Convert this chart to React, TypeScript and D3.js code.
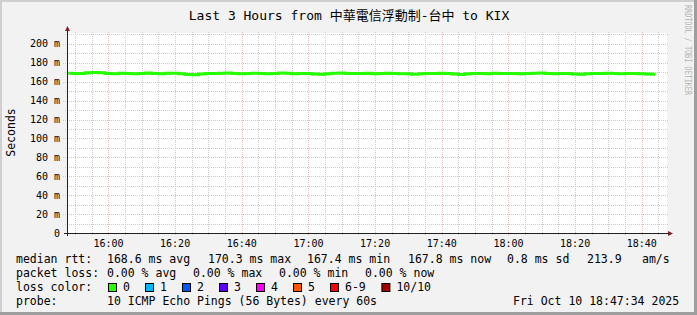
import React from 'react';
import * as d3 from 'd3';

// ---------- data ----------
const startTime = Date.UTC(2025, 9, 10, 15, 47, 34);
const endTime = Date.UTC(2025, 9, 10, 18, 47, 34);
const firstSample = Date.UTC(2025, 9, 10, 15, 48, 0);
const stepMinutes = 2;

const medianRtt = [
  168.9, 168.6, 168.8, 169.4, 169.8, 169.5, 168.7, 168.5, 168.9, 168.6,
  168.4, 168.8, 169.1, 168.7, 168.5, 168.9, 169.0, 168.3, 167.6, 167.4,
  168.2, 168.8, 168.6, 168.9, 169.2, 168.7, 168.5, 168.6, 169.0, 168.8,
  168.4, 168.7, 169.1, 168.9, 168.5, 168.6, 168.8, 168.2, 167.8, 168.5,
  168.9, 169.3, 168.8, 168.6, 168.7, 169.0, 168.5, 168.6, 168.9, 168.7,
  168.4, 168.3, 167.9, 168.5, 168.8, 168.6, 168.9, 168.7, 168.2, 167.7,
  168.4, 168.8, 168.6, 168.5, 168.9, 168.7, 168.6, 168.8, 168.4, 168.6,
  168.9, 169.1, 168.7, 168.5, 168.8, 168.6, 168.2, 167.9, 168.4, 168.7,
  168.6, 168.9, 168.8, 168.5, 168.7, 168.6, 168.3, 168.1, 167.8,
];

const smokeSpread = [
  2.2, 1.8, 2.6, 2.0, 1.6, 2.4, 3.0, 2.1, 1.9, 2.5,
  2.8, 2.0, 1.7, 2.3, 2.9, 2.2, 1.8, 2.6, 3.1, 2.4,
  2.0, 1.9, 2.7, 2.2, 1.8, 2.5, 2.9, 2.1, 1.7, 2.3,
  2.6, 2.0, 1.8, 2.4, 2.8, 2.2, 1.9, 2.7, 3.0, 2.3,
  1.8, 2.1, 2.6, 2.4, 1.9, 2.2, 2.8, 2.5, 1.8, 2.1,
  2.7, 2.9, 2.4, 2.0, 1.8, 2.3, 2.6, 2.1, 2.8, 3.1,
  2.2, 1.9, 2.4, 2.7, 2.0, 1.8, 2.5, 2.2, 2.9, 2.3,
  1.9, 2.1, 2.6, 2.4, 2.0, 2.3, 2.8, 3.0, 2.2, 1.9,
  2.4, 2.1, 2.6, 2.3, 1.8, 2.5, 2.7, 2.4, 2.2,
];

const yTicks = [0, 20, 40, 60, 80, 100, 120, 140, 160, 180, 200];
const yTickLabels = ['0', '20 m', '40 m', '60 m', '80 m', '100 m', '120 m', '140 m', '160 m', '180 m', '200 m'];
const yMinorStep = 10;
const yMax = 211.5;

const titleText = 'Last 3 Hours from 中華電信浮動制-台中 to KIX';
const yAxisTitle = 'Seconds';
const watermark = 'RRDTOOL / TOBI OETIKER';

const medianLabel = 'median rtt:';
const medianStats = ['168.6 ms avg', '170.3 ms max', '167.4 ms min', '167.8 ms now', '0.8 ms sd', '213.9', 'am/s'];
const lossLabel = 'packet loss:';
const lossStats = ['0.00 % avg', '0.00 % max', '0.00 % min', '0.00 % now'];
const lossColorLabel = 'loss color:';
const lossLabels = ['0', '1', '2', '3', '4', '5', '6-9', '10/10'];
const lossColorValues = ['#26ff00', '#00b8ff', '#0059ff', '#5e00ff', '#ff00fe', '#ff5500', '#ff0000', '#a10000'];
const probeLabel = 'probe:';
const probeText = '10 ICMP Echo Pings (56 Bytes) every 60s';
const dateText = 'Fri Oct 10 18:47:34 2025';

// ---------- layout ----------
const W = 697;
const H = 315;
const L = 67;
const R = 667;
const T = 33;
const B = 233;
const MONO = '"DejaVu Sans Mono", "Noto Sans CJK TC", monospace';

const medianX = [107, 208, 307, 408, 507, 587, 642];
const lossX = [107, 193, 279, 365];

export default function App() {
  const x = d3.scaleUtc().domain([new Date(startTime), new Date(endTime)]).range([L, R]);
  const y = d3.scaleLinear().domain([0, yMax]).range([B, T]);

  const samples = medianRtt.map((v, i) => ({
    t: new Date(firstSample + i * stepMinutes * 60000),
    v,
    s: smokeSpread[i],
  }));

  const smokeArea = d3
    .area<any>()
    .x((d) => x(d.t))
    .y0((d) => y(d.v - d.s / 2))
    .y1((d) => y(d.v + d.s / 2))
    .curve(d3.curveStep);
  const smokeInner = d3
    .area<any>()
    .x((d) => x(d.t))
    .y0((d) => y(d.v - d.s / 4))
    .y1((d) => y(d.v + d.s / 4))
    .curve(d3.curveStep);
  const medianLine = d3
    .line<any>()
    .x((d) => x(d.t))
    .y((d) => y(d.v))
    .curve(d3.curveStep);

  const minorTimes = d3.utcMinute.every(5)!.range(new Date(startTime), new Date(endTime));
  const majorTimes = d3.utcMinute.every(20)!.range(new Date(startTime), new Date(endTime));
  const fmt = d3.utcFormat('%H:%M');

  const minorY = d3.range(yMinorStep, yMax, yMinorStep).filter((v) => v % 20 !== 0);

  // legend boxes
  const boxes: { bx: number; lx: number; label: string; color: string }[] = [];
  let bx = 108;
  lossLabels.forEach((lab, i) => {
    boxes.push({ bx, lx: bx + 15, label: lab, color: lossColorValues[i] });
    bx += 37 + (lab.length - 1) * 7.2;
  });

  const legendY = [263, 277, 291, 305];

  return (
    <svg
      width={W}
      height={H}
      style={{ position: 'absolute', left: 0, top: 0 }}
      fontFamily={MONO}
    >
      {/* background and frame */}
      <rect x={0} y={0} width={W} height={H} fill="#f2f2f2" />
      <rect x={0} y={0} width={W} height={2} fill="#cfcfcf" />
      <rect x={0} y={0} width={2} height={H} fill="#cfcfcf" />
      <rect x={0} y={H - 3} width={W} height={3} fill="#9e9e9e" />
      <rect x={W - 3} y={0} width={3} height={H} fill="#9e9e9e" />

      {/* canvas */}
      <rect x={L} y={T} width={R - L} height={B - T} fill="#ffffff" />

      {/* minor grid */}
      <g stroke="#cccccc" strokeWidth={1} strokeDasharray="1,1">
        {minorY.map((v) => (
          <line key={'my' + v} x1={L - 2} x2={R + 1} y1={Math.round(y(v)) + 0.5} y2={Math.round(y(v)) + 0.5} />
        ))}
        {minorTimes
          .filter((t) => t.getUTCMinutes() % 20 !== 0)
          .map((t) => (
            <line key={'mx' + +t} x1={Math.round(x(t)) + 0.5} x2={Math.round(x(t)) + 0.5} y1={T - 1} y2={B + 2} />
          ))}
      </g>
      {/* major grid */}
      <g stroke="#ebbcbc" strokeWidth={1} strokeDasharray="1,1">
        {yTicks
          .filter((v) => v > 0)
          .map((v) => (
            <line key={'My' + v} x1={L - 4} x2={R + 1} y1={Math.round(y(v)) + 0.5} y2={Math.round(y(v)) + 0.5} />
          ))}
        {majorTimes.map((t) => (
          <line key={'Mx' + +t} x1={Math.round(x(t)) + 0.5} x2={Math.round(x(t)) + 0.5} y1={T - 1} y2={B + 3} />
        ))}
      </g>

      {/* smoke and median */}
      <path d={smokeArea(samples) || ''} fill="#bdbdbd" />
      <path d={smokeInner(samples) || ''} fill="#6e6e6e" />
      <path d={medianLine(samples) || ''} fill="none" stroke={lossColorValues[0]} strokeWidth={3} />

      {/* axes */}
      <line x1={L - 3} x2={R + 3} y1={B + 0.5} y2={B + 0.5} stroke="#202020" strokeWidth={1} />
      <line x1={L + 0.5} x2={L + 0.5} y1={B + 3} y2={T - 3} stroke="#202020" strokeWidth={1} />
      <polygon points={`${L - 2},${T - 2} ${L + 3},${T - 2} ${L + 0.5},${T - 7}`} fill="#7f1f1f" />
      <polygon points={`${R + 1},${B - 2} ${R + 1},${B + 3} ${R + 6},${B + 0.5}`} fill="#7f1f1f" />

      {/* y tick labels */}
      <g fontSize={10} textAnchor="end" fill="#000">
        {yTicks.map((v, i) => (
          <text key={'yl' + v} x={60} y={y(v) + 3.6}>
            {yTickLabels[i]}
          </text>
        ))}
      </g>
      {/* x tick labels */}
      <g fontSize={10} textAnchor="middle" fill="#000">
        {majorTimes.map((t) => (
          <text key={'xl' + +t} x={x(t)} y={246.5}>
            {fmt(t)}
          </text>
        ))}
      </g>

      {/* titles */}
      <text x={349} y={19.5} fontSize={13} textAnchor="middle" fill="#000">
        {titleText}
      </text>
      <text transform="translate(14.5,132.5) rotate(-90)" fontSize={11.5} textAnchor="middle" fill="#000">
        {yAxisTitle}
      </text>
      <text
        transform="translate(685,5) rotate(90)"
        fontSize={8}
        fill="#b4b4b4"
        textLength={90}
        lengthAdjust="spacingAndGlyphs"
      >
        {watermark}
      </text>

      {/* legend */}
      <g fontSize={11.5} fill="#000" style={{ whiteSpace: 'pre' }}>
        <text x={16} y={legendY[0]}>{medianLabel}</text>
        {medianStats.map((s, i) => (
          <text key={'ms' + i} x={medianX[i]} y={legendY[0]}>
            {s}
          </text>
        ))}
        <text x={16} y={legendY[1]}>{lossLabel}</text>
        {lossStats.map((s, i) => (
          <text key={'ls' + i} x={lossX[i]} y={legendY[1]}>
            {s}
          </text>
        ))}
        <text x={16} y={legendY[2]}>{lossColorLabel}</text>
        {boxes.map((b, i) => (
          <g key={'lb' + i}>
            <rect x={b.bx + 0.5} y={283.5} width={8} height={8} fill={b.color} stroke="#000" strokeWidth={1} />
            <text x={b.lx} y={legendY[2]}>{b.label}</text>
          </g>
        ))}
        <text x={16} y={legendY[3]}>{probeLabel}</text>
        <text x={107} y={legendY[3]}>{probeText}</text>
        <text x={513} y={legendY[3]}>{dateText}</text>
      </g>
    </svg>
  );
}
